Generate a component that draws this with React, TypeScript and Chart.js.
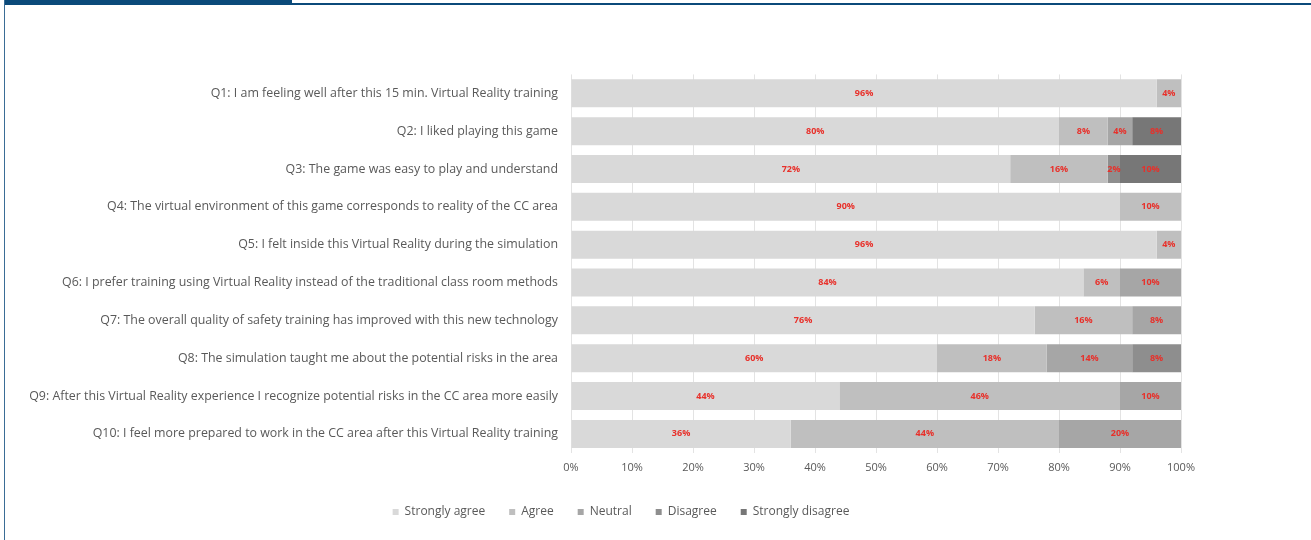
import React, { useEffect, useRef } from "react";
import { Chart, registerables } from "chart.js";

Chart.register(...registerables);

const categories = [
  "Q1: I am feeling well after this 15 min. Virtual Reality training",
  "Q2: I liked playing this game",
  "Q3: The game was easy to play and understand",
  "Q4: The virtual environment of this game corresponds to reality of the CC area",
  "Q5: I felt inside this Virtual Reality during the simulation",
  "Q6: I prefer training using Virtual Reality instead of the traditional class room methods",
  "Q7: The overall quality of safety training has improved with this new technology",
  "Q8: The simulation taught me about the potential risks in the area",
  "Q9: After this Virtual Reality experience I recognize potential risks in the CC area more easily",
  "Q10: I feel more prepared to work in the CC area after this Virtual Reality training",
];

const seriesNames = ["Strongly agree", "Agree", "Neutral", "Disagree", "Strongly disagree"];
const stronglyAgree = [96, 80, 72, 90, 96, 84, 76, 60, 44, 36];
const agree = [4, 8, 16, 10, 4, 6, 16, 18, 46, 44];
const neutral = [0, 4, 0, 0, 0, 10, 8, 14, 10, 20];
const disagree = [0, 0, 2, 0, 0, 0, 0, 8, 0, 0];
const stronglyDisagree = [0, 8, 10, 0, 0, 0, 0, 0, 0, 0];
const seriesColors = ["#d9d9d9", "#bfbfbf", "#a6a6a6", "#8e8e8e", "#777777"];
const xTicks = [0, 10, 20, 30, 40, 50, 60, 70, 80, 90, 100];

const FONT = "'Open Sans', 'DejaVu Sans', sans-serif";

const labelPlugin = {
  id: "segLabels",
  afterDatasetsDraw(chart: any) {
    const ctx = chart.ctx;
    ctx.save();
    ctx.font = `bold 9px ${FONT}`;
    ctx.fillStyle = "#e8302a";
    ctx.textAlign = "center";
    ctx.textBaseline = "middle";
    chart.data.datasets.forEach((ds: any, di: number) => {
      const meta = chart.getDatasetMeta(di);
      meta.data.forEach((el: any, i: number) => {
        const v = ds.data[i];
        if (!v) return;
        ctx.fillText(`${v}%`, (el.x + el.base) / 2, el.y);
      });
    });
    ctx.restore();
  },
};

// centre the legend under the whole figure rather than the canvas
const legendShift = {
  id: "legendShift",
  beforeDraw(chart: any) {
    if (chart.legend) chart.legend.left = 41;
  },
};

export default function App() {
  const ref = useRef<HTMLCanvasElement | null>(null);
  useEffect(() => {
    if (!ref.current) return;
    const all = [stronglyAgree, agree, neutral, disagree, stronglyDisagree];
    const chart = new Chart(ref.current, {
      type: "bar",
      data: {
        labels: categories,
        datasets: all.map((d, i) => ({
          label: seriesNames[i],
          data: d,
          backgroundColor: seriesColors[i],
          borderWidth: 0,
          barPercentage: 0.74,
          categoryPercentage: 1,
        })),
      },
      options: {
        indexAxis: "y",
        responsive: false,
        animation: false,
        maintainAspectRatio: false,
        layout: { padding: { top: 5, right: 41, left: 0, bottom: 4 } },
        plugins: {
          tooltip: { enabled: false },
          legend: {
            position: "bottom",
            labels: {
              boxWidth: 6,
              boxHeight: 6,
              padding: 24,
              color: "#595959",
              font: { family: FONT, size: 12 },
            },
          },
        },
        scales: {
          x: {
            stacked: true,
            min: 0,
            max: 100,
            afterBuildTicks: (scale: any) => {
              scale.ticks = xTicks.map((v) => ({ value: v }));
            },
            ticks: {
              callback: (v: any) => `${v}%`,
              color: "#595959",
              font: { family: FONT, size: 11 },
              padding: 8,
            },
            grid: { color: "#e3e3e3", drawTicks: false },
            border: { display: false },
          },
          y: {
            stacked: true,
            afterFit: (scale: any) => {
              scale.width = 551;
            },
            ticks: {
              color: "#595959",
              font: { family: FONT, size: 12.4 },
              padding: 13,
              autoSkip: false,
            },
            grid: { display: false, drawTicks: false },
            border: { display: false },
          },
        },
      },
      plugins: [labelPlugin, legendShift],
    } as any);
    return () => chart.destroy();
  }, []);

  return (
    <div style={{ position: "absolute", left: 0, top: 0, width: 1311, height: 540, background: "#fff", overflow: "hidden" }}>
      <div style={{ position: "absolute", left: 4, top: 0, width: 288, height: 4, background: "#0b4a7a" }} />
      <div style={{ position: "absolute", left: 4, top: 3, width: 1307, height: 2, background: "#0b4a7a" }} />
      <div style={{ position: "absolute", left: 4, top: 0, width: 1, height: 540, background: "#3a6d96" }} />
      <canvas ref={ref} width={1202} height={478} style={{ position: "absolute", left: 20, top: 54, width: 1202, height: 478 }} />
    </div>
  );
}
